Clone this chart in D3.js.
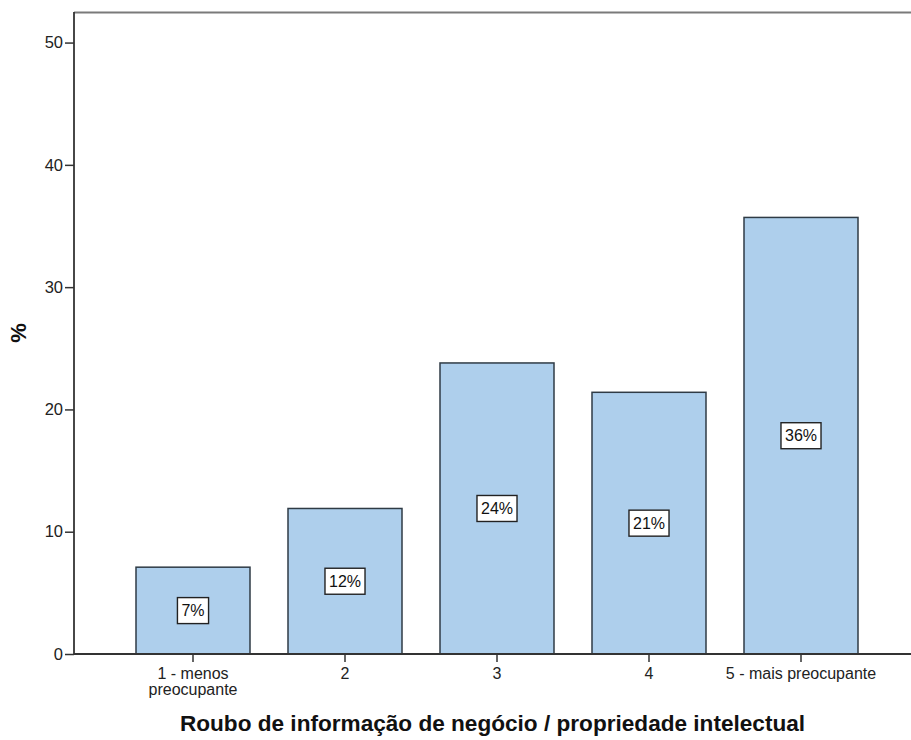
<!DOCTYPE html>
<html><head><meta charset="utf-8">
<script src="https://cdn.jsdelivr.net/npm/d3@7"></script>
<style>
body{margin:0;background:#fff;}
text{font-family:"Liberation Sans",Arial,sans-serif;}
</style></head>
<body><svg id="c" width="911" height="740"></svg>
<script>
const categories = ["1 - menos\npreocupante", "2", "3", "4", "5 - mais preocupante"];
const values = [7.1, 11.9, 23.8, 21.4, 35.7];
const valueLabels = ["7%", "12%", "24%", "21%", "36%"];
const yTicks = [0, 10, 20, 30, 40, 50];
const xTitle = "Roubo de informação de negócio / propriedade intelectual";
const yTitle = "%";

const svg = d3.select("#c");
const mLeft = 74, mRight = 911, mTop = 12, mBottom = 654;

const y = d3.scaleLinear().domain([0, 52.5]).range([mBottom, mTop]);
const x = d3.scaleBand().domain(categories).range([117, 877]).paddingInner(0.25).paddingOuter(0.125);

// top border
svg.append("line").attr("x1", mLeft).attr("x2", mRight).attr("y1", mTop + 0.5).attr("y2", mTop + 0.5)
  .attr("stroke", "#7a7a7a").attr("stroke-width", 2);

// bars
svg.selectAll("rect.bar").data(values).enter().append("rect")
  .attr("class", "bar")
  .attr("x", (d, i) => x(categories[i]))
  .attr("y", d => y(d))
  .attr("width", x.bandwidth())
  .attr("height", d => mBottom - y(d))
  .attr("fill", "#aecfec")
  .attr("stroke", "#2f3b45")
  .attr("stroke-width", 1.5);

// value labels
const lg = svg.selectAll("g.lab").data(values).enter().append("g").attr("class", "lab")
  .attr("transform", (d, i) => `translate(${x(categories[i]) + x.bandwidth() / 2},${(y(d) + y(0)) / 2})`);
lg.each(function (d, i) {
  const g = d3.select(this);
  const t = g.append("text").attr("text-anchor", "middle").attr("dy", "0.36em")
    .attr("font-size", 16).attr("fill", "#111").text(valueLabels[i]);
  const w = t.node().getComputedTextLength();
  g.insert("rect", "text").attr("x", -w / 2 - 4).attr("y", -13).attr("width", w + 8).attr("height", 26)
    .attr("fill", "#fff").attr("stroke", "#222").attr("stroke-width", 1.4);
});

// y axis
const yAxis = svg.append("g").attr("transform", `translate(${mLeft},0)`)
  .call(d3.axisLeft(y).tickValues(yTicks).tickSize(9).tickPadding(2));
yAxis.select(".domain").attr("d", `M0,${mTop}V${mBottom}`).attr("stroke", "#333").attr("stroke-width", 1.8);
yAxis.selectAll(".tick line").attr("stroke", "#333").attr("stroke-width", 1.5);
yAxis.selectAll(".tick text").attr("font-size", 16.5).attr("fill", "#222")
  .style("font-family", '"Liberation Sans",Arial,sans-serif');

// x axis
const xAxis = svg.append("g").attr("transform", `translate(0,${mBottom})`)
  .call(d3.axisBottom(x).tickSize(8).tickPadding(6));
xAxis.select(".domain").attr("d", `M${mLeft},0H${mRight}`).attr("stroke", "#333").attr("stroke-width", 1.8);
xAxis.selectAll(".tick line").attr("stroke", "#333").attr("stroke-width", 1.5);
xAxis.selectAll(".tick text").attr("font-size", 16).attr("fill", "#222")
  .style("font-family", '"Liberation Sans",Arial,sans-serif')
  .each(function (d) {
    const t = d3.select(this);
    const lines = d.split("\n");
    t.text(null);
    lines.forEach((l, k) => t.append("tspan").attr("x", 0).attr("dy", k === 0 ? "0.71em" : "0.95em").text(l));
  });

// titles
svg.append("text").attr("x", (mLeft + mRight) / 2).attr("y", 731).attr("text-anchor", "middle")
  .attr("font-size", 22.6).attr("font-weight", "bold").attr("fill", "#111").text(xTitle);
svg.append("text").attr("transform", `translate(26,${(mTop + mBottom) / 2}) rotate(-90)`)
  .attr("text-anchor", "middle").attr("font-size", 22).attr("font-weight", "bold").attr("fill", "#111").text(yTitle);
</script></body></html>
